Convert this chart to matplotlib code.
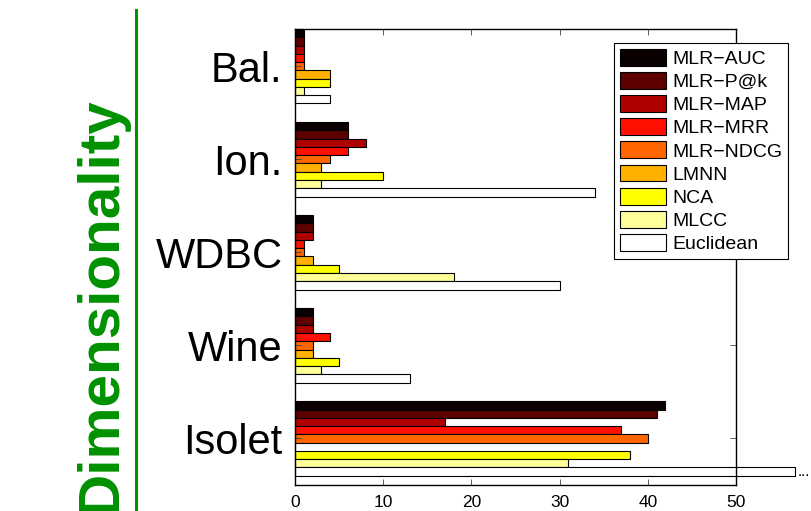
"""Grouped horizontal bars: learned dimensionality per dataset and method."""

import matplotlib

matplotlib.use("Agg", force=True)
import matplotlib.pyplot as plt
import numpy as np
from matplotlib.lines import Line2D

datasets = ["Bal.", "Ion.", "WDBC", "Wine", "Isolet"]
methods = [
    "MLR\u2212AUC",
    "MLR\u2212P@k",
    "MLR\u2212MAP",
    "MLR\u2212MRR",
    "MLR\u2212NDCG",
    "LMNN",
    "NCA",
    "MLCC",
    "Euclidean",
]
colors = [
    "#0a0000",
    "#5c0000",
    "#b00000",
    "#ff1000",
    "#ff6600",
    "#ffb000",
    "#ffff00",
    "#ffff99",
    "#ffffff",
]

# one list per method, values in dataset order (nan = not reported)
mlr_auc = [1, 6, 2, 2, 42]
mlr_pak = [1, 6, 2, 2, 41]
mlr_map = [1, 8, 2, 2, 17]
mlr_mrr = [1, 6, 1, 4, 37]
mlr_ndcg = [1, 4, 1, 2, 40]
lmnn = [4, 3, 2, 2, np.nan]
nca = [4, 10, 5, 5, 38]
mlcc = [1, 3, 18, 3, 31]
euclidean = [4, 34, 30, 13, 617]

series = [mlr_auc, mlr_pak, mlr_map, mlr_mrr, mlr_ndcg, lmnn, nca, mlcc, euclidean]

x_ticks = [0, 10, 20, 30, 40, 50]
x_max = 50
bar_cap = 56.7  # bars longer than this are cut and marked with "..."

plt.rcParams["font.family"] = ["Liberation Sans", "DejaVu Sans"]

fig = plt.figure(figsize=(8.12, 5.11), dpi=100)
ax = fig.add_axes([295 / 812, 26 / 511, 441 / 812, 456 / 511])

n = len(series)
group_w = 0.8
bar_h = group_w / n
y = np.arange(1, len(datasets) + 1)

for i, (vals, name, col) in enumerate(zip(series, methods, colors)):
    vals = np.asarray(vals, dtype=float)
    shown = np.minimum(vals, bar_cap)
    pos = y - group_w / 2 + (i + 0.5) * bar_h
    ax.barh(
        pos,
        np.nan_to_num(shown),
        height=bar_h,
        color=col,
        edgecolor="black",
        linewidth=0.8,
        label=name,
        clip_on=False,
    )
    for p, v in zip(pos, vals):
        if v > bar_cap:
            ax.text(bar_cap + 0.3, p, "...", ha="left", va="center", fontsize=11)

ax.set_xlim(0, x_max)
ax.set_ylim(y[-1] + 0.5, y[0] - 0.4)
ax.set_xticks(x_ticks)
ax.set_yticks(y)
ax.set_yticklabels(datasets, fontsize=30)
ax.tick_params(axis="x", labelsize=12.5, pad=7)
ax.tick_params(axis="y", pad=9)
ax.tick_params(
    direction="in", length=4, width=0.6, top=True, right=True, color="#444444"
)
for sp in ax.spines.values():
    sp.set_linewidth(1.0)

leg = ax.legend(
    loc="upper left",
    bbox_to_anchor=(614 / 812, 1 - 43 / 511),
    bbox_transform=fig.transFigure,
    fontsize=14,
    frameon=True,
    fancybox=False,
    edgecolor="black",
    framealpha=1.0,
    handlelength=2.4,
    handleheight=0.95,
    handletextpad=0.3,
    labelspacing=0.21,
    borderpad=0.3,
    borderaxespad=0,
)
leg.get_frame().set_linewidth(0.8)

# big rotated caption on the left, cut by the bottom edge as in the original
fig.text(
    101 / 812,
    -0.004,
    "Dimensionality",
    rotation=90,
    ha="center",
    va="bottom",
    fontsize=42,
    fontweight="bold",
    color="#009100",
)
fig.add_artist(
    Line2D([136 / 812, 136 / 812], [0, 1 - 10 / 511], color="#009100", linewidth=2.2)
)

fig.savefig("out.png", dpi=100)
plt.close(fig)
